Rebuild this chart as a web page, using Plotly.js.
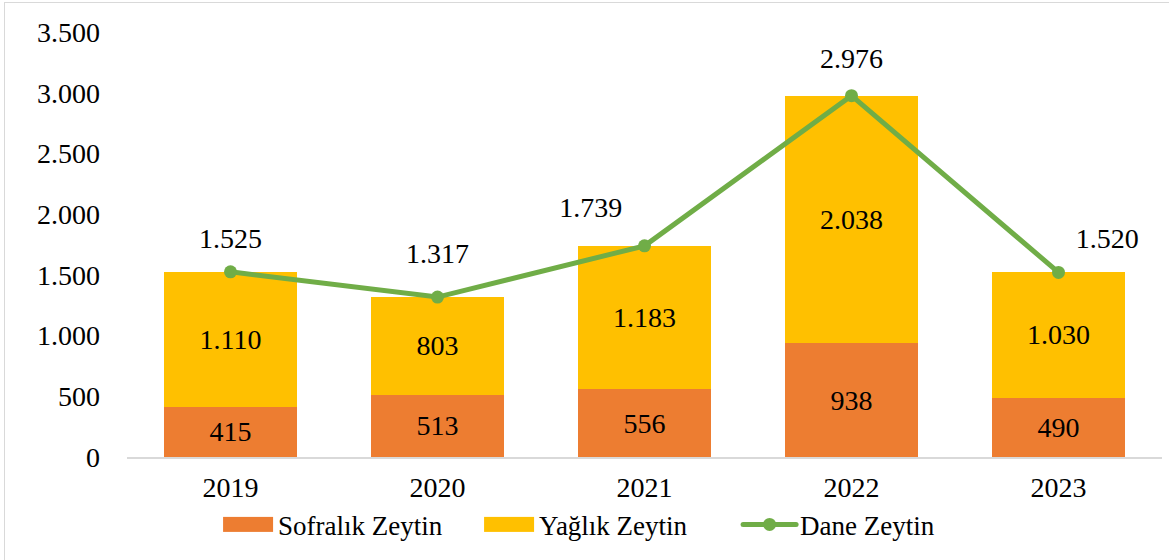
<!DOCTYPE html>
<html>
<head>
<meta charset="utf-8">
<script src="https://cdn.plot.ly/plotly-3.0.1.min.js"></script>
<style>
  html, body { margin: 0; padding: 0; background: #fff; }
  #wrap { position: relative; width: 1169px; height: 560px; overflow: hidden; }
  #chart { width: 1169px; height: 560px; }
  #chart svg text { font-family: 'Liberation Serif', 'Times New Roman', serif !important; }
  #frame { position: absolute; left: 4px; top: 2px; width: 1180px; height: 580px;
           border: 1.5px solid #D9D9D9; box-sizing: border-box; pointer-events: none; }
</style>
</head>
<body>
<div id="wrap"><div id="chart"></div><div id="frame"></div></div>
<script>
const years = ['2019', '2020', '2021', '2022', '2023'];
const sofralik = [415, 513, 556, 938, 490];
const yaglik = [1110, 803, 1183, 2038, 1030];
const dane = [1525, 1317, 1739, 2976, 1520];
const daneLabelPos = ['top center', 'top center', 'top left', 'top center', 'top right'];
const yTicks = [0, 500, 1000, 1500, 2000, 2500, 3000, 3500];

// styling: gap (invisible marker size) used to push each line label away from its point
const labelGap = [26, 42, 34, 32, 26];

const FONT = 'Times New Roman';
const C_SOF = '#ED7D31', C_YAG = '#FFC000', C_DANE = '#70AD47';

const traces = [
  {
    type: 'bar', name: 'Sofralık Zeytin', x: years, y: sofralik,
    marker: { color: C_SOF }, width: 0.64,
    texttemplate: '%{y:,d}', textposition: 'inside', insidetextanchor: 'middle',
    constraintext: 'none', textfont: { family: FONT, size: 28, color: '#000' },
    hoverinfo: 'skip'
  },
  {
    type: 'bar', name: 'Yağlık Zeytin', x: years, y: yaglik,
    marker: { color: C_YAG }, width: 0.64,
    texttemplate: '%{y:,d}', textposition: 'inside', insidetextanchor: 'middle',
    constraintext: 'none', textfont: { family: FONT, size: 28, color: '#000' },
    hoverinfo: 'skip'
  },
  {
    type: 'scatter', mode: 'lines+markers', name: 'Dane Zeytin', x: years, y: dane,
    line: { color: C_DANE, width: 5 },
    marker: { color: C_DANE, size: 13 },
    cliponaxis: false, hoverinfo: 'skip'
  },
  {
    type: 'scatter', mode: 'markers+text', name: 'Dane Zeytin etiket', x: years, y: dane,
    showlegend: false,
    marker: { color: C_DANE, size: labelGap, opacity: 0 },
    texttemplate: '%{y:,d}', textposition: daneLabelPos,
    textfont: { family: FONT, size: 28, color: '#000' },
    cliponaxis: false, hoverinfo: 'skip'
  }
];

const layout = {
  width: 1169, height: 560,
  margin: { l: 127, r: 7, t: 32, b: 103, autoexpand: false },
  barmode: 'stack',
  separators: ',.',
  paper_bgcolor: '#fff', plot_bgcolor: '#fff',
  font: { family: FONT, size: 28, color: '#000' },
  showlegend: true,
  legend: {
    orientation: 'h', xref: 'paper', yref: 'paper',
    x: 0.088, xanchor: 'left', y: -0.102, yanchor: 'top',
    font: { family: FONT, size: 27, color: '#000' },
    traceorder: 'normal', itemwidth: 50,
    entrywidth: 196, entrywidthmode: 'pixels'
  },
  xaxis: {
    type: 'category', showgrid: false, zeroline: false,
    showline: true, linecolor: '#D9D9D9', linewidth: 2,
    ticks: '', ticklabelstandoff: 4,
    tickfont: { family: FONT, size: 28, color: '#000' }
  },
  yaxis: {
    range: [0, 3500], tickvals: yTicks, tickformat: ',d',
    showgrid: false, zeroline: false, showline: false,
    ticks: '', ticklabelstandoff: 26,
    tickfont: { family: FONT, size: 28, color: '#000' }
  }
};

const SVGNS = 'http://www.w3.org/2000/svg';
function restyleLegendSymbols(gd) {
  const items = gd.querySelectorAll('.legend g.traces');
  const colors = [C_SOF, C_YAG, C_DANE];
  items.forEach((item, i) => {
    const txt = item.querySelector('text.legendtext');
    const pts = item.querySelector('g.legendpoints');
    if (!txt || !pts) return;
    const tx = parseFloat(txt.getAttribute('x')) || 0;
    pts.setAttribute('transform', '');
    while (pts.firstChild) pts.removeChild(pts.firstChild);
    if (i < 2) {
      const r = document.createElementNS(SVGNS, 'rect');
      r.setAttribute('x', tx - 55); r.setAttribute('y', -7.5);
      r.setAttribute('width', 50); r.setAttribute('height', 15);
      r.setAttribute('fill', colors[i]);
      pts.appendChild(r);
    } else {
      const l = document.createElementNS(SVGNS, 'line');
      l.setAttribute('x1', tx - 57); l.setAttribute('x2', tx - 4);
      l.setAttribute('y1', 0); l.setAttribute('y2', 0);
      l.setAttribute('stroke', colors[i]); l.setAttribute('stroke-width', 5);
      l.setAttribute('stroke-linecap', 'round');
      pts.appendChild(l);
      const c = document.createElementNS(SVGNS, 'circle');
      c.setAttribute('cx', tx - 30.5); c.setAttribute('cy', 0); c.setAttribute('r', 6.5);
      c.setAttribute('fill', colors[i]);
      pts.appendChild(c);
    }
  });
}

Plotly.newPlot('chart', traces, layout, { staticPlot: true, displayModeBar: false })
  .then(gd => restyleLegendSymbols(gd));
</script>
</body>
</html>
